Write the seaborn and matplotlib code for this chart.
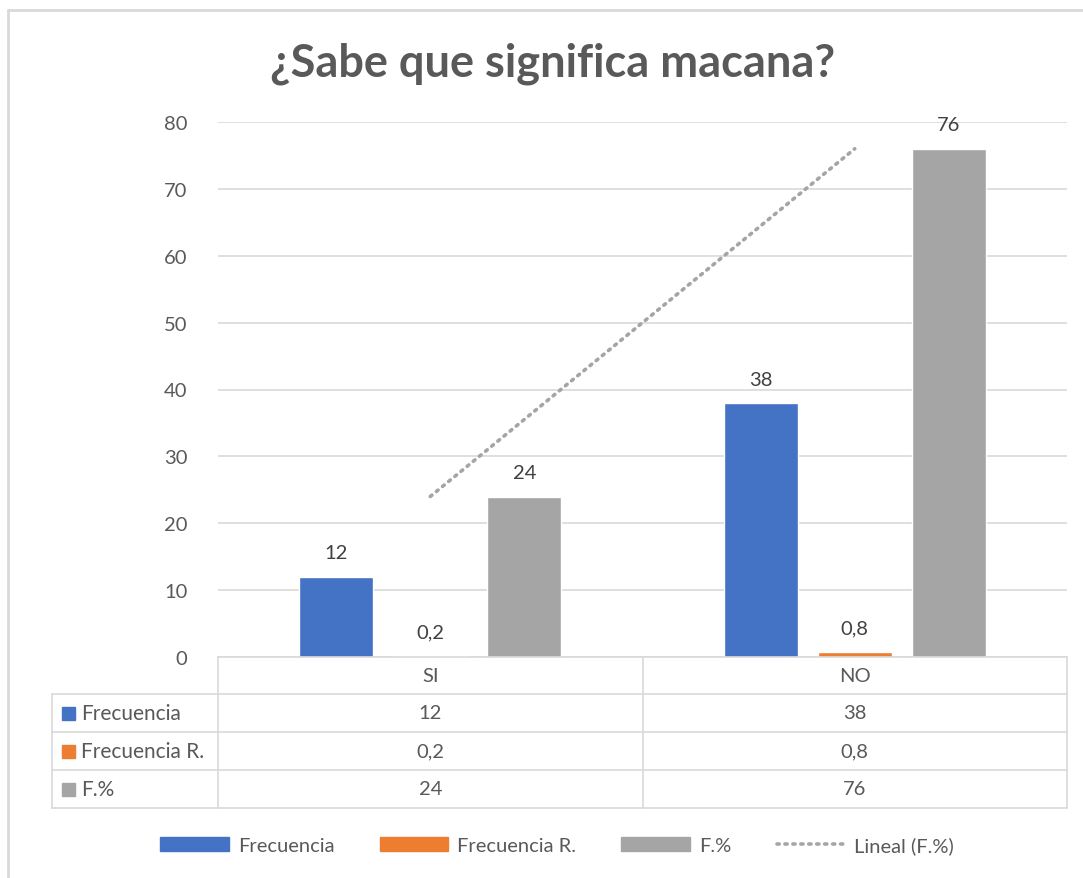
import pandas as pd
import numpy as np
import matplotlib
matplotlib.use("Agg")
import matplotlib.pyplot as plt
import matplotlib.transforms as mtransforms
from matplotlib.lines import Line2D
from matplotlib.patches import Patch
import seaborn as sns

categorias = ["SI", "NO"]
series = ["Frecuencia", "Frecuencia R.", "F.%"]
frecuencia = [12, 38]
frecuencia_r = [0.2, 0.8]
f_pct = [24, 76]
colores = ["#4472C4", "#ED7D31", "#A5A5A5"]
yticks = [0, 10, 20, 30, 40, 50, 60, 70, 80]

def fmt(v):
    s = ("%g" % v)
    return s.replace(".", ",")

df = pd.DataFrame({
    "cat": categorias * 3,
    "serie": [s for s in series for _ in categorias],
    "valor": frecuencia + frecuencia_r + f_pct,
})

sns.set_theme(style="white")
plt.rcParams["font.family"] = ["Lato", "DejaVu Sans"]

FS = 14.5
W, H = 1083, 879
fig = plt.figure(figsize=(W / 100, H / 100), dpi=100)
ax = fig.add_axes([218 / W, 1 - 658 / H, (1067 - 218) / W, (658 - 123) / H])

sns.barplot(data=df, x="cat", y="valor", hue="serie", order=categorias,
            hue_order=series, palette=colores, width=0.665, gap=0.213,
            saturation=1, ax=ax, legend=False)

ax.set_ylim(0, 80)
ax.set_xlim(-0.5, 1.5)
ax.set_yticks(yticks)
ax.set_yticklabels([str(t) for t in yticks], fontsize=FS, color="#595959")
ax.tick_params(axis="y", length=0, pad=22)
ax.set_xticks([])
ax.set_xlabel("")
ax.set_ylabel("")
ax.grid(axis="y", color="#D9D9D9", linewidth=1.2)
ax.set_axisbelow(True)
for s in ["top", "right", "left"]:
    ax.spines[s].set_visible(False)
ax.spines["bottom"].set_color("#D9D9D9")
ax.spines["bottom"].set_linewidth(1.2)

for cont in ax.containers:
    ax.bar_label(cont, labels=[fmt(v) for v in cont.datavalues],
                 padding=11, fontsize=FS, color="#404040")

# linea de tendencia de F.%
xs = np.arange(len(categorias))
m, b = np.polyfit(xs, f_pct, 1)
ax.plot(xs, m * xs + b, color="#A5A5A5", linewidth=2.6,
        linestyle=(0, (0.6, 1.6)), dash_capstyle="round", zorder=4)

fig.suptitle("¿Sabe que significa macana?", x=553 / W, y=1 - 64 / H,
             va="center", fontsize=32.5, fontweight="bold", color="#595959")

# tabla de datos
tr = mtransforms.blended_transform_factory(ax.transData, fig.transFigure)
def fy(py):
    return 1 - py / H
def fx(px):
    return px / W
gc = "#D9D9D9"
rows_y = [658, 695, 733, 771, 809]
for py in rows_y[1:]:
    fig.add_artist(Line2D([fx(52), fx(1067)], [fy(py), fy(py)], color=gc, lw=1.2))
for px in [218, 642.5, 1067]:
    fig.add_artist(Line2D([fx(px), fx(px)], [fy(658), fy(809)], color=gc, lw=1.2))
fig.add_artist(Line2D([fx(52), fx(52)], [fy(695), fy(809)], color=gc, lw=1.2))

for i, c in enumerate(categorias):
    fig.text(i, fy((658 + 695) / 2), c, transform=tr, ha="center", va="center",
             fontsize=FS, color="#595959")
vals = [frecuencia, frecuencia_r, f_pct]
for r, (name, col, v) in enumerate(zip(series, colores, vals)):
    yc = fy((rows_y[r + 1] + rows_y[r + 2]) / 2)
    fig.add_artist(plt.Rectangle((fx(62), yc - 6.5 / H), 13 / W, 13 / H,
                                 color=col, transform=fig.transFigure))
    fig.text(fx(81), yc, name, ha="left", va="center", fontsize=15, color="#595959")
    for i in range(len(categorias)):
        fig.text(i, yc, fmt(v[i]), transform=tr, ha="center", va="center",
                 fontsize=FS, color="#595959")

# leyenda
handles = [Patch(color=c) for c in colores]
handles.append(Line2D([0], [0], color="#A5A5A5", lw=2.6,
                      linestyle=(0, (0.6, 1.6)), dash_capstyle="round"))
fig.legend(handles, series + ["Lineal (F.%)"], loc="center",
           bbox_to_anchor=(fx(557), fy(846)), ncol=4, frameon=False,
           fontsize=FS, labelcolor="#595959", handlelength=3.4, handleheight=0.7,
           columnspacing=2.25, handletextpad=0.45)

# borde del grafico
fig.add_artist(Line2D([fx(8), fx(8)], [fy(11), 0], color=gc, lw=2))
fig.add_artist(Line2D([fx(8), 1], [fy(11), fy(11)], color=gc, lw=2))

fig.savefig("out.png", dpi=100, facecolor="white")
